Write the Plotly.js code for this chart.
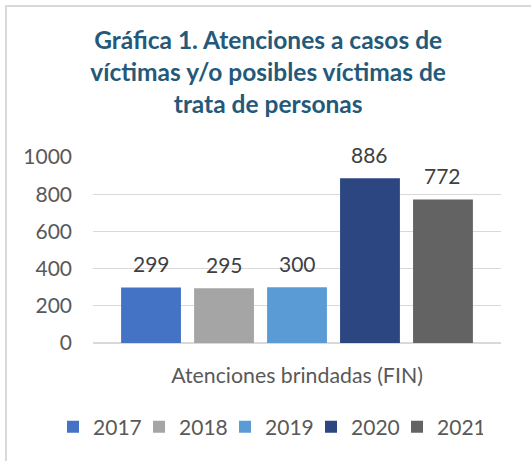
<!DOCTYPE html>
<html>
<head>
<meta charset="utf-8">
<script src="https://cdn.plot.ly/plotly-3.0.1.min.js"></script>
<style>
  html, body { margin: 0; padding: 0; background: #fff; overflow: hidden; }
  #frame { position: absolute; left: 5px; top: 5px; width: 700px; height: 700px;
           border-left: 2px solid #d9d9d9; border-top: 2px solid #d9d9d9; pointer-events: none; }
  #chart { position: absolute; left: 0; top: 0; width: 531px; height: 461px; }
</style>
</head>
<body>
<div id="chart"></div>
<div id="frame"></div>
<script>
const chartTitle = 'Gráfica 1. Atenciones a casos de<br>víctimas y/o posibles víctimas de<br>trata de personas';
const category = 'Atenciones brindadas (FIN)';
const years = ['2017', '2018', '2019', '2020', '2021'];
const values = [299, 295, 300, 886, 772];
const colors = ['#4472C4', '#A5A5A5', '#5B9BD5', '#2B4680', '#636363'];
const yTicks = [0, 200, 400, 600, 800, 1000];

const FONT = 'Lato, "Liberation Sans", sans-serif';
const positions = years.map((_, i) => i);

const traces = years.map((yr, i) => ({
  type: 'bar',
  name: yr,
  x: [positions[i]],
  y: [values[i]],
  width: 0.82,
  marker: { color: colors[i] },
  hoverinfo: 'skip'
}));

const annotations = years.map((yr, i) => ({
  x: positions[i],
  y: values[i],
  xref: 'x', yref: 'y',
  text: String(values[i]),
  showarrow: false,
  yanchor: 'middle',
  yshift: 24,
  font: { family: FONT, size: 21, color: '#404040' }
}));

const layout = {
  width: 531, height: 461,
  paper_bgcolor: 'rgba(0,0,0,0)',
  plot_bgcolor: 'rgba(0,0,0,0)',
  margin: { l: 93, r: 30, t: 157, b: 118 },
  title: {
    text: chartTitle,
    font: { family: FONT, size: 24.5, color: '#24597A', weight: 'bold' },
    x: 0.505, xref: 'container', xanchor: 'center',
    y: 1 - 49 / 461, yref: 'container', yanchor: 'middle'
  },
  xaxis: {
    range: [-0.795, 4.795],
    tickvals: [2],
    ticktext: [category],
    showgrid: false, zeroline: false, showline: false,
    ticks: '',
    ticklabelstandoff: 18,
    tickfont: { family: FONT, size: 21.3, color: '#595959' },
    fixedrange: true
  },
  yaxis: {
    range: [0, 1000],
    tickvals: yTicks,
    showgrid: true, gridcolor: '#d9d9d9', gridwidth: 1,
    zeroline: true, zerolinecolor: '#d9d9d9', zerolinewidth: 1.5,
    showline: false, ticks: '',
    ticklabelstandoff: 20,
    tickfont: { family: FONT, size: 21, color: '#595959' },
    fixedrange: true
  },
  showlegend: true,
  legend: {
    orientation: 'h',
    xref: 'paper', yref: 'paper',
    x: -0.098, xanchor: 'left',
    y: -0.4516, yanchor: 'middle',
    font: { family: FONT, size: 21, color: '#595959' },
    itemwidth: 30,
    entrywidth: 41,
    traceorder: 'normal',
    bgcolor: 'rgba(0,0,0,0)'
  },
  annotations: annotations
};

Plotly.newPlot('chart', traces, layout, { displayModeBar: false, staticPlot: true });
</script>
</body>
</html>
